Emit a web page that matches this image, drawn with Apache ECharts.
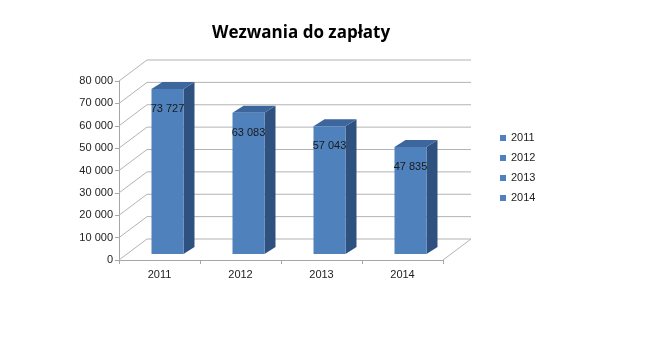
<!DOCTYPE html>
<html>
<head>
<meta charset="utf-8">
<script src="https://cdn.jsdelivr.net/npm/echarts@6/dist/echarts.min.js"></script>
<style>html,body{margin:0;padding:0;background:#fff}#c{width:650px;height:350px}</style>
</head>
<body>
<div id="c"></div>
<script>
var titleText = 'Wezwania do zapłaty';
var categories = ['2011', '2012', '2013', '2014'];
var values = [73727, 63083, 57043, 47835];
var yTicks = [0, 10000, 20000, 30000, 40000, 50000, 60000, 70000, 80000];

function fmt(v) { return String(v).replace(/\B(?=(\d{3})+(?!\d))/g, ' '); }

var WALL_DX = 28, WALL_DY = -21;
var BAR_DX = 8, BAR_DY = -6;
var SIDE_DX = 11, SIDE_DY = -7;
var FONT = '"Liberation Sans", Arial, sans-serif';

var chart = echarts.init(document.getElementById('c'), null, { renderer: 'canvas' });

var legendSeries = categories.map(function (c) {
  return { name: c, type: 'bar', data: [], itemStyle: { color: '#4f81bd' } };
});

chart.setOption({
  animation: false,
  backgroundColor: '#fff',
  title: {
    text: titleText, left: 207, top: 20,
    textStyle: { fontFamily: '"Open Sans", sans-serif', fontWeight: 'bold', fontSize: 17, color: '#000' }
  },
  legend: {
    orient: 'vertical', left: 495, top: 127, icon: 'rect', itemWidth: 6, itemHeight: 6,
    itemGap: 8, data: categories, selectedMode: false,
    textStyle: { fontFamily: FONT, fontSize: 11, color: '#222', lineHeight: 12 }
  },
  grid: { left: 119, right: 207, top: 81, bottom: 90 },
  xAxis: {
    type: 'category', data: categories,
    axisLine: { lineStyle: { color: '#a6a6a6', width: 1 } },
    axisTick: { show: true, length: 4, lineStyle: { color: '#a6a6a6' } },
    axisLabel: { margin: 9, fontFamily: FONT, fontSize: 11, color: '#222' },
    splitLine: { show: false }
  },
  yAxis: {
    type: 'value', min: 0, max: 80000, interval: 10000,
    axisLine: { show: true, lineStyle: { color: '#a6a6a6', width: 1 } },
    axisTick: { show: true, length: 4, lineStyle: { color: '#a6a6a6' } },
    axisLabel: { margin: 6, fontFamily: FONT, fontSize: 11, color: '#222', formatter: fmt },
    splitLine: { show: false }
  },
  series: [
    {
      type: 'custom', name: 'walls', silent: true, z: 1,
      data: yTicks.map(function (t) { return [0, t]; }),
      encode: { x: 0, y: 1 },
      renderItem: function (params, api) {
        var cs = params.coordSys;
        var left = cs.x, right = cs.x + cs.width;
        var y = api.coord([0, api.value(1)])[1];
        var st = { stroke: '#b3b3b3', lineWidth: 1, fill: null };
        var children = [
          { type: 'line', shape: { x1: left, y1: y, x2: left + WALL_DX, y2: y + WALL_DY }, style: st },
          { type: 'line', shape: { x1: left + WALL_DX, y1: y + WALL_DY, x2: right + WALL_DX, y2: y + WALL_DY }, style: st }
        ];
        if (api.value(1) === 0) {
          children.push({ type: 'line', shape: { x1: right, y1: y, x2: right + WALL_DX, y2: y + WALL_DY }, style: st });
        }
        return { type: 'group', children: children };
      }
    },
    {
      type: 'custom', name: 'bars', silent: true, z: 3,
      data: values.map(function (v, i) { return [i, v]; }),
      encode: { x: 0, y: 1 },
      renderItem: function (params, api) {
        var idx = api.value(0), val = api.value(1);
        var top = api.coord([idx, val]);
        var base = api.coord([idx, 0]);
        var bw = api.size([1, 0])[0] * 0.395;
        var cx = top[0] + BAR_DX;
        var fl = cx - bw / 2, fr = cx + bw / 2;
        var ft = top[1] + BAR_DY, fb = base[1] + BAR_DY;
        return {
          type: 'group',
          children: [
            { type: 'polygon', shape: { points: [[fr, ft], [fr + SIDE_DX, ft + SIDE_DY], [fr + SIDE_DX, fb + SIDE_DY], [fr, fb]] },
              style: { fill: '#2f5180' } },
            { type: 'polygon', shape: { points: [[fl, ft], [fl + SIDE_DX, ft + SIDE_DY], [fr + SIDE_DX, ft + SIDE_DY], [fr, ft]] },
              style: { fill: '#3c669c' } },
            { type: 'rect', shape: { x: fl, y: ft, width: bw, height: fb - ft },
              style: { fill: '#4f81bd' } },
            { type: 'text', x: cx, y: ft + 20,
              style: { text: fmt(val), fill: '#1a1a1a', font: '11px ' + FONT, align: 'center', verticalAlign: 'middle' } }
          ]
        };
      }
    }
  ].concat(legendSeries)
});
</script>
</body>
</html>
